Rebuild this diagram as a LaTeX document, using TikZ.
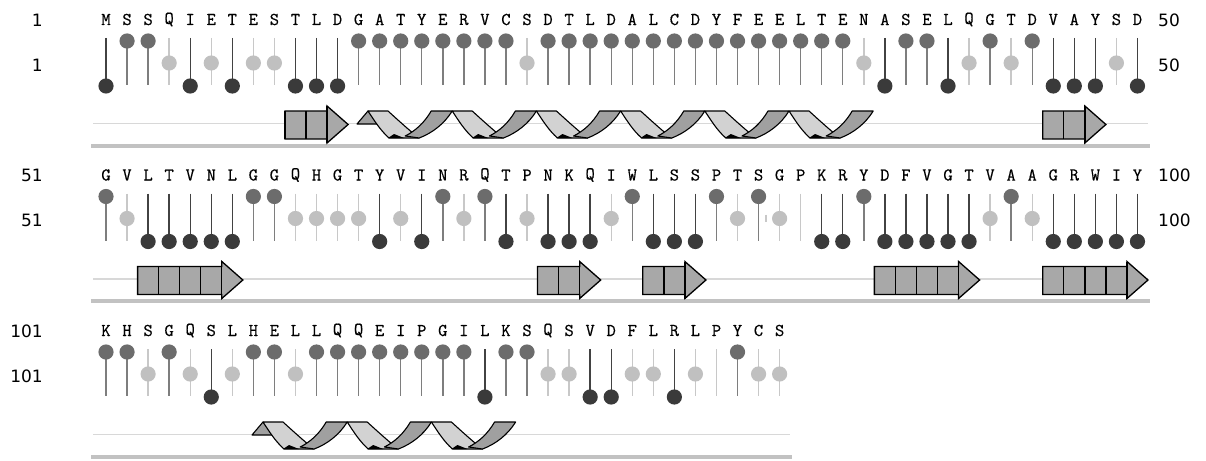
\documentclass[tikz,border=0pt]{standalone}
\usepackage{fontspec}
\setmainfont{DejaVu Sans}
\newfontfamily\seqfont{Latin Modern Mono}[FakeBold=0.6]
\usetikzlibrary{calc}

% greys for the accessibility classes and the secondary-structure track
\definecolor{expc}{HTML}{6C6C6C}
\definecolor{expstickc}{HTML}{7E7E7E}
\definecolor{midc}{HTML}{C0C0C0}
\definecolor{midstickc}{HTML}{C8C8C8}
\definecolor{burc}{HTML}{3A3A3A}
\definecolor{burstickc}{HTML}{424242}
\definecolor{strandc}{HTML}{A8A8A8}
\definecolor{hfrontc}{HTML}{D2D2D2}
\definecolor{hbackc}{HTML}{A0A0A0}
\definecolor{thinc}{HTML}{D8D8D8}
\definecolor{thickc}{HTML}{C2C2C2}

\tikzset{
  aa/.style={font=\seqfont\fontsize{18}{18}\selectfont, inner sep=0pt, anchor=center},
  numl/.style={font=\fontsize{17}{17}\selectfont, inner sep=0pt, anchor=east},
  numr/.style={font=\fontsize{17}{17}\selectfont, inner sep=0pt, anchor=west},
  stickw/.style={line width=1.4pt},
  thintrack/.style={draw=thinc, line width=1.5pt},
  thicktrack/.style={draw=thickc, line width=4pt},
  sarrow/.style={fill=strandc, draw=black, line width=1.3pt, line join=miter},
  sline/.style={draw=black, line width=1.3pt},
  hback/.style={fill=hbackc, draw=black, line width=1.1pt, line join=round},
  hfront/.style={fill=hfrontc, draw=black, line width=1.1pt, line join=round}
}

% lollipops: exposed (top), intermediate (middle), buried (bottom), stick only
\newcommand{\lolT}[1]{\draw[expstickc,stickw] (#1,41) -- (#1,85); \fill[expc] (#1,41) circle[radius=7.6pt];}
\newcommand{\lolM}[1]{\draw[midstickc,stickw] (#1,38) -- (#1,85); \fill[midc] (#1,63) circle[radius=7.6pt];}
\newcommand{\lolB}[1]{\draw[burstickc,stickw] (#1,38) -- (#1,85); \fill[burc] (#1,86) circle[radius=7.6pt];}
\newcommand{\lolN}[1]{\draw[midstickc,stickw] (#1,38) -- (#1,85);}

% beta strand: first residue index in the row, number of boxes before the head
\newcommand{\strandarrow}[2]{%
  \pgfmathsetmacro\strL{95.5+#1*21.05}
  \pgfmathsetmacro\strH{\strL+#2*21.05}
  \pgfmathsetmacro\strT{\strH+21.05}
  \filldraw[sarrow] (\strL,111) -- (\strH,111) -- (\strH,106) -- (\strT,124.5)
     -- (\strH,143) -- (\strH,139) -- (\strL,139) -- cycle;
  \foreach \j in {1,...,#2}{%
    \pgfmathsetmacro\strD{\strL+(\j-1)*21.05}
    \draw[sline] (\strD,111) -- (\strD,139);}
  \draw[sline] (\strH,106) -- (\strH,143);
}

% alpha helix ribbon: left end, number of turns
% light faces run down to the right, dark faces climb back up in front of them
\newcommand{\helixribbon}[2]{%
  \pgfmathsetmacro\hxs{#1+11}
  \filldraw[hback] (#1,124) -- (\hxs,111) -- ({#1+21},124) -- cycle;
  \pgfmathtruncatemacro\hlast{#2-1}
  \foreach \k in {0,...,\hlast}{%
    \pgfmathsetmacro\X{\hxs+\k*84.2}
    \filldraw[hfront] (\X,111) -- ({\X+20},111)
       .. controls ({\X+31},121) and ({\X+42},131) .. ({\X+51},138)
       -- ({\X+21},138) .. controls ({\X+12},130) and ({\X+6},120) .. cycle;
    \fill[black] ({\X+20},138) -- ({\X+36},138) -- ({\X+26},134) -- cycle;}
  \foreach \k in {1,...,#2}{%
    \pgfmathsetmacro\X{\hxs+\k*84.2}
    \filldraw[hback] ({\X-47},136) .. controls ({\X-37},131) and ({\X-28},123) .. ({\X-21},111)
       -- (\X,111) .. controls ({\X-8},124) and ({\X-20},133) .. ({\X-33},138) -- cycle;}
}

\begin{document}
\begin{tikzpicture}[x=1pt,y=-1pt]
\useasboundingbox (0,0) rectangle (1206,460);

% ---------- residues 1-50 ----------
\begin{scope}
  \draw[thintrack] (93,123.5) -- (1148,123.5);
  \draw[thicktrack] (91,145.5) -- (1150,145.5);
  \foreach \a [count=\i from 0] in {M,S,S,Q,I,E,T,E,S,T,L,D,G,A,T,Y,E,R,V,C,S,D,T,L,D,A,L,C,D,Y,F,E,E,L,T,E,N,A,S,E,L,Q,G,T,D,V,A,Y,S,D}
    \node[aa] (ra\i) at ({106+\i*21.05},19.5) {\a};
  \foreach \c [count=\i from 0] in {B,T,T,M,B,M,B,M,M,B,B,B,T,T,T,T,T,T,T,T,M,T,T,T,T,T,T,T,T,T,T,T,T,T,T,T,M,B,T,T,B,M,T,M,T,B,B,B,M,B}{%
    \pgfmathsetmacro\xx{106+\i*21.05}
    \csname lol\c\endcsname{\xx}}
  \strandarrow{9}{2}
  \strandarrow{45}{2}
  \helixribbon{357}{6}
  \node[numl] (la1) at (43,20) {1};
  \node[numl] (la2) at (43,65) {1};
  \node[numr] (ra1) at (1158,20) {50};
  \node[numr] (ra2) at (1158,65) {50};
\end{scope}

% ---------- residues 51-100 ----------
\begin{scope}[shift={(0,155.5)}]
  \draw[thintrack] (93,123.5) -- (1148,123.5);
  \draw[thicktrack] (91,145.5) -- (1150,145.5);
  \foreach \a [count=\i from 0] in {G,V,L,T,V,N,L,G,G,Q,H,G,T,Y,V,I,N,R,Q,T,P,N,K,Q,I,W,L,S,S,P,T,S,G,P,K,R,Y,D,F,V,G,T,V,A,A,G,R,W,I,Y}
    \node[aa] (rb\i) at ({106+\i*21.05},19.5) {\a};
  \foreach \c [count=\i from 0] in {T,M,B,B,B,B,B,T,T,M,M,M,M,B,M,B,T,M,T,B,M,B,B,B,M,T,B,B,B,T,M,T,M,N,B,B,T,B,B,B,B,B,M,T,M,B,B,B,B,B}{%
    \pgfmathsetmacro\xx{106+\i*21.05}
    \csname lol\c\endcsname{\xx}}
  \draw[midstickc,stickw] (766,59) -- (766,66);
  \strandarrow{2}{4}
  \strandarrow{21}{2}
  \strandarrow{26}{2}
  \strandarrow{37}{4}
  \strandarrow{45}{4}
  \node[numl] (lb1) at (43,20) {51};
  \node[numl] (lb2) at (43,65) {51};
  \node[numr] (rb1) at (1158,20) {100};
  \node[numr] (rb2) at (1158,65) {100};
\end{scope}

% ---------- residues 101-133 ----------
\begin{scope}[shift={(0,311)}]
  \draw[thintrack] (93,123.5) -- (790,123.5);
  \draw[thicktrack] (91,145.5) -- (792,145.5);
  \foreach \a [count=\i from 0] in {K,H,S,G,Q,S,L,H,E,L,L,Q,Q,E,I,P,G,I,L,K,S,Q,S,V,D,F,L,R,L,P,Y,C,S}
    \node[aa] (rc\i) at ({106+\i*21.05},19.5) {\a};
  \foreach \c [count=\i from 0] in {T,T,M,T,M,B,M,T,T,M,T,T,T,T,T,T,T,T,B,T,T,M,M,B,B,M,M,B,M,N,T,M,M}{%
    \pgfmathsetmacro\xx{106+\i*21.05}
    \csname lol\c\endcsname{\xx}}
  \helixribbon{252}{3}
  \node[numl] (lc1) at (43,20) {101};
  \node[numl] (lc2) at (43,65) {101};
\end{scope}
\end{tikzpicture}
\end{document}
